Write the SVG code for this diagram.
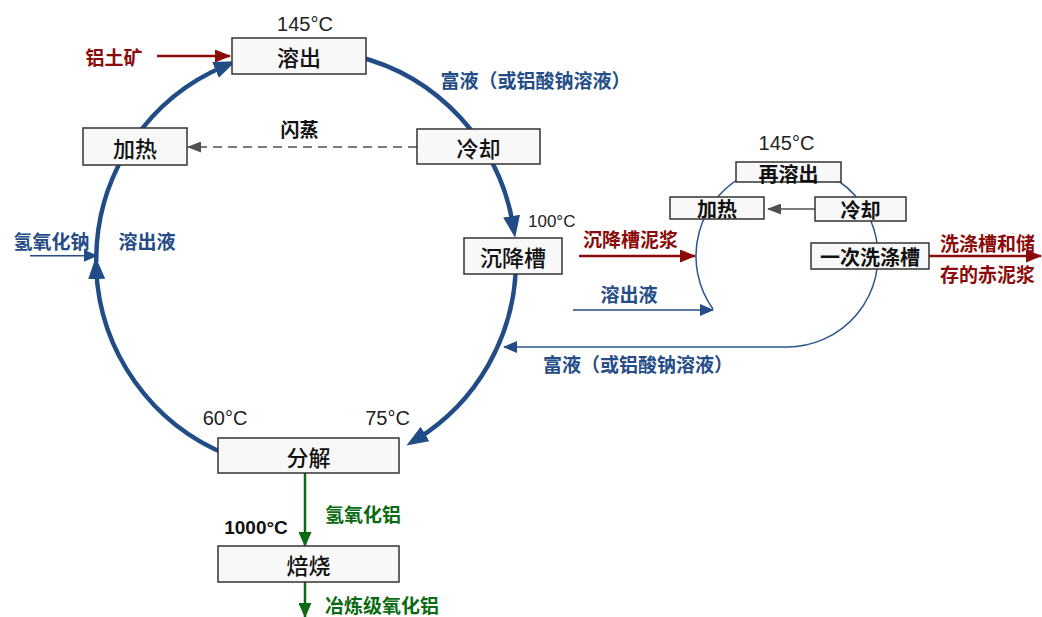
<svg xmlns="http://www.w3.org/2000/svg" width="1042" height="617" viewBox="0 0 1042 617">
<style>
.box{fill:#f8f8f8;stroke:#333;stroke-width:1.5}
.bt{font-family:"Noto Sans CJK SC",sans-serif;font-size:22px;font-weight:500;fill:#111;text-anchor:middle;dominant-baseline:central}
.bts{font-family:"Noto Sans CJK SC",sans-serif;font-size:20px;font-weight:bold;fill:#111;text-anchor:middle;dominant-baseline:central}
.num{font-family:"Liberation Sans",Arial,sans-serif;font-size:20px;fill:#222;text-anchor:middle}
.lbl{font-family:"Noto Sans CJK SC",sans-serif;font-size:19px;font-weight:bold;dominant-baseline:central}
.blue{fill:#244c86}
.red{fill:#8b0a0a}
.green{fill:#0b6b12}
.big{fill:none;stroke:#214c85;stroke-width:4.5}
.thin{fill:none;stroke:#2a5591;stroke-width:1.5}
</style>
<defs>
<marker id="mBig" markerUnits="userSpaceOnUse" markerWidth="22" markerHeight="17" refX="10" refY="8.5" orient="auto" viewBox="0 0 22 17"><path d="M0,0 L22,8.5 L0,17 z" fill="#214c85"/></marker>
<marker id="mBlue" markerUnits="userSpaceOnUse" markerWidth="14" markerHeight="12" refX="13" refY="6" orient="auto" viewBox="0 0 14 12"><path d="M0,0 L14,6 L0,12 z" fill="#244c86"/></marker>
<marker id="mRed" markerUnits="userSpaceOnUse" markerWidth="16" markerHeight="13" refX="15" refY="6.5" orient="auto" viewBox="0 0 16 13"><path d="M0,0 L16,6.5 L0,13 z" fill="#8b0a0a"/></marker>
<marker id="mGreen" markerUnits="userSpaceOnUse" markerWidth="15" markerHeight="13" refX="14" refY="6.5" orient="auto" viewBox="0 0 15 13"><path d="M0,0 L15,6.5 L0,13 z" fill="#0b6b12"/></marker>
<marker id="mGray" markerUnits="userSpaceOnUse" markerWidth="14" markerHeight="11" refX="13" refY="5.5" orient="auto" viewBox="0 0 14 11"><path d="M0,0 L14,5.5 L0,11 z" fill="#505050"/></marker>
</defs>
<g id="connectors">
<path class="big" d="M355.8,56 A210,210 0 0 1 513.2,226" marker-end="url(#mBig)"/>
<path class="big" d="M515.9,265 A210,210 0 0 1 416.6,439.3" marker-end="url(#mBig)"/>
<path class="big" d="M228.1,455 A210,210 0 0 1 96.2,269" marker-end="url(#mBig)"/>
<path class="big" d="M96.3,262 A210,210 0 0 1 124.1,155"/>
<path class="big" d="M133.7,140 A210,210 0 0 1 224.7,66" marker-end="url(#mBig)"/>
<path d="M417,147 L188,147" fill="none" stroke="#505050" stroke-width="1.5" stroke-dasharray="9,6" marker-end="url(#mGray)"/>
<path d="M157,56 L230,56" fill="none" stroke="#8b0a0a" stroke-width="2.5" marker-end="url(#mRed)"/>
<path d="M30,255.7 L97,255.7" fill="none" stroke="#244c86" stroke-width="1.5" marker-end="url(#mBlue)"/>
<path d="M305,473 L305,546" fill="none" stroke="#0b6b12" stroke-width="2.5" marker-end="url(#mGreen)"/>
<path d="M305,582 L305,617" fill="none" stroke="#0b6b12" stroke-width="2.5" marker-end="url(#mGreen)"/>
<path class="thin" d="M713,309 A91,91 0 1 1 786,347 L504,347" marker-end="url(#mBlue)"/>
<path d="M579,256 L695,256" fill="none" stroke="#8b0a0a" stroke-width="2.5" marker-end="url(#mRed)"/>
<path d="M573,310 L713,310" fill="none" stroke="#244c86" stroke-width="1.5" marker-end="url(#mBlue)"/>
<path d="M815,209 L768,209" fill="none" stroke="#505050" stroke-width="1.5" marker-end="url(#mGray)"/>
<path d="M929,256 L1041,256" fill="none" stroke="#8b0a0a" stroke-width="2.5" marker-end="url(#mRed)"/>
</g>
<g id="node-dissolve"><rect class="box" x="232" y="38" width="134" height="36"/><text class="bt" x="299" y="56">溶出</text></g>
<g id="node-heat"><rect class="box" x="83" y="128" width="104" height="37"/><text class="bt" x="135" y="146.5">加热</text></g>
<g id="node-cool"><rect class="box" x="417" y="129" width="123" height="35"/><text class="bt" x="478.5" y="146.5">冷却</text></g>
<g id="node-settler"><rect class="box" x="464" y="238" width="98" height="36"/><text class="bt" x="513" y="256">沉降槽</text></g>
<g id="node-decomp"><rect class="box" x="218" y="438" width="181" height="35"/><text class="bt" x="308.5" y="455.5">分解</text></g>
<g id="node-calcine"><rect class="box" x="218" y="546" width="181" height="36"/><text class="bt" x="308.5" y="564">焙烧</text></g>
<g id="node-redissolve"><rect class="box" x="736" y="162" width="105" height="20"/><text class="bts" x="788.5" y="173">再溶出</text></g>
<g id="node-heat2"><rect class="box" x="670" y="197" width="94" height="22"/><text class="bts" x="717" y="208.5">加热</text></g>
<g id="node-cool2"><rect class="box" x="815" y="197" width="91" height="24"/><text class="bts" x="860.5" y="209.5">冷却</text></g>
<g id="node-wash"><rect class="box" x="811" y="243" width="118" height="26"/><text class="bts" x="870" y="256.5">一次洗涤槽</text></g>
<g id="labels">
<text class="num" x="305" y="31">145°C</text>
<text class="lbl blue" x="535.5" y="79" text-anchor="middle">富液（或铝酸钠溶液）</text>
<text class="lbl" x="299.5" y="128" text-anchor="middle" fill="#111">闪蒸</text>
<text class="lbl red" x="114" y="56" text-anchor="middle">铝土矿</text>
<text class="num" x="528" y="227" style="font-size:17px;text-anchor:start">100°C</text>
<text class="lbl blue" x="51.5" y="240" text-anchor="middle">氢氧化钠</text>
<text class="lbl blue" x="147" y="240" text-anchor="middle">溶出液</text>
<text class="num" x="225" y="425">60°C</text>
<text class="num" x="387.5" y="425">75°C</text>
<text class="lbl green" x="325" y="513">氢氧化铝</text>
<text class="num" x="256" y="534" style="font-weight:bold;font-size:19px;fill:#111">1000°C</text>
<text class="lbl green" x="325" y="604">冶炼级氧化铝</text>
<text class="num" x="786.5" y="150">145°C</text>
<text class="lbl red" x="583" y="238">沉降槽泥浆</text>
<text class="lbl blue" x="629" y="293" text-anchor="middle">溶出液</text>
<text class="lbl red" x="940" y="242">洗涤槽和储</text>
<text class="lbl red" x="940" y="273">存的赤泥浆</text>
<text class="lbl blue" x="638" y="363" text-anchor="middle">富液（或铝酸钠溶液）</text>
</g>
</svg>
